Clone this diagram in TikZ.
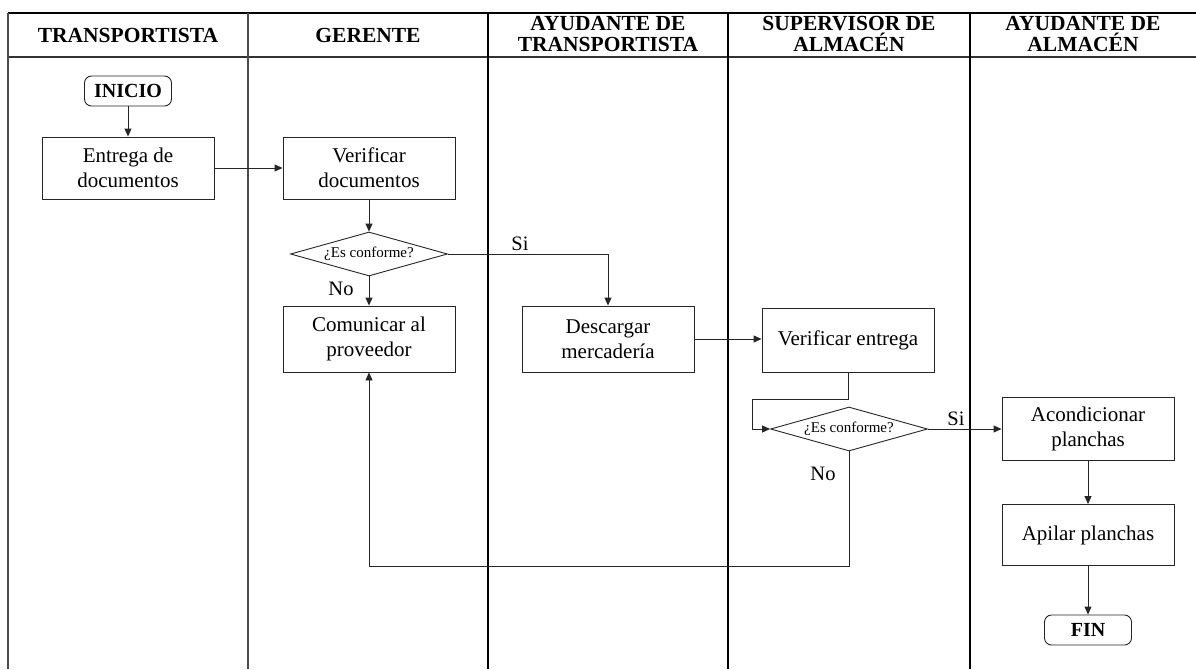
\documentclass[tikz,border=0pt]{standalone}
\usepackage{fontspec}
\setmainfont{Liberation Serif}
\usetikzlibrary{shapes.geometric,arrows.meta}
\begin{document}
\begin{tikzpicture}[x=1pt,y=-1pt,
  thicklane/.style={line width=1.6pt,black},
  thinlane/.style={line width=1.1pt,black!70},
  stepbox/.style={draw=black!85,line width=0.9pt,minimum width=172pt,minimum height=63pt,
    align=center,inner sep=2pt,font=\fontsize{21}{25}\selectfont},
  term/.style={draw=black!85,line width=0.9pt,rounded corners=7pt,minimum width=87pt,
    minimum height=30pt,inner sep=1pt,font=\fontsize{20}{24}\selectfont\bfseries},
  decision/.style={diamond,aspect=3.6,draw=black!85,line width=0.9pt,minimum width=157pt,
    minimum height=44pt,inner sep=0pt,font=\fontsize{15}{18}\selectfont},
  flow/.style={draw=black!85,line width=0.9pt,-{Triangle[length=8pt,width=7pt]}},
  lbl/.style={font=\fontsize{20.5}{24}\selectfont},
  head/.style={font=\fontsize{21.5}{20.5}\selectfont\bfseries,align=center}]

\useasboundingbox (0,0) rectangle (1196,669);
\fill[white] (0,0) rectangle (1196,669);

% swimlane frame
\draw[line width=1.5pt,black] (8,13) -- (1196,13);
\draw[line width=1.1pt,black!80] (8,57) -- (1196,57);
\draw[thinlane] (8,13) -- (8,669);
\draw[thinlane] (248,13) -- (248,669);
\draw[thicklane] (488,13) -- (488,669);
\draw[thicklane] (728,13) -- (728,669);
\draw[thicklane] (970,13) -- (970,669);

% lane titles
\node[head] (h1) at (128,35) {TRANSPORTISTA};
\node[head] (h2) at (368,35) {GERENTE};
\node[head] (h3) at (608,34) {AYUDANTE DE\\TRANSPORTISTA};
\node[head] (h4) at (849,34) {SUPERVISOR DE\\ALMACÉN};
\node[head] (h5) at (1083,34) {AYUDANTE DE\\ALMACÉN};

% process steps
\node[term] (ini) at (128,91) {INICIO};
\node[stepbox,minimum height=62pt] (ent) at (128,168) {Entrega de\\documentos};
\node[stepbox,minimum height=62pt] (vdoc) at (369,168) {Verificar\\documentos};
\node[decision] (d1) at (369,254) {¿Es conforme?};
\node[stepbox,minimum height=66pt] (com) at (369,339) {Comunicar al\\proveedor};
\node[stepbox,minimum height=66pt] (desc) at (608,339) {Descargar\\mercadería};
\node[stepbox,minimum height=64pt] (vent) at (848,340) {Verificar entrega};
\node[decision] (d2) at (849,429) {¿Es conforme?};
\node[stepbox] (acon) at (1088,429) {Acondicionar\\planchas};
\node[stepbox,minimum height=61pt] (api) at (1088,535) {Apilar planchas};
\node[term] (fin) at (1088,630) {FIN};

% helper points for elbow routes
\coordinate (k1) at (752,399);
\coordinate (ret) at (0,566);

% connectors
\draw[flow] (ini) -- (ent);
\draw[flow] (ent) -- (vdoc);
\draw[flow] (vdoc) -- (d1);
\draw[flow] (d1) -- (com);
\draw[flow] (d1.east) -| (desc.north);
\draw[flow] (desc) -- (desc -| vent.west);
\draw[flow] (vent.south) -- (vent.south |- k1) -- (k1) |- (d2.west);
\draw[flow] (d2.east) -- (acon.west);
\draw[flow] (acon) -- (api);
\draw[flow] (api) -- (fin);
\draw[flow] (d2.south) -- (d2.south |- ret) -| (com.south);

% branch labels
\node[lbl] (no1) at (341,289) {No};
\node[lbl] (si1) at (520,244) {Si};
\node[lbl] (si2) at (956,419) {Si};
\node[lbl] (no2) at (823,474) {No};
\end{tikzpicture}
\end{document}
